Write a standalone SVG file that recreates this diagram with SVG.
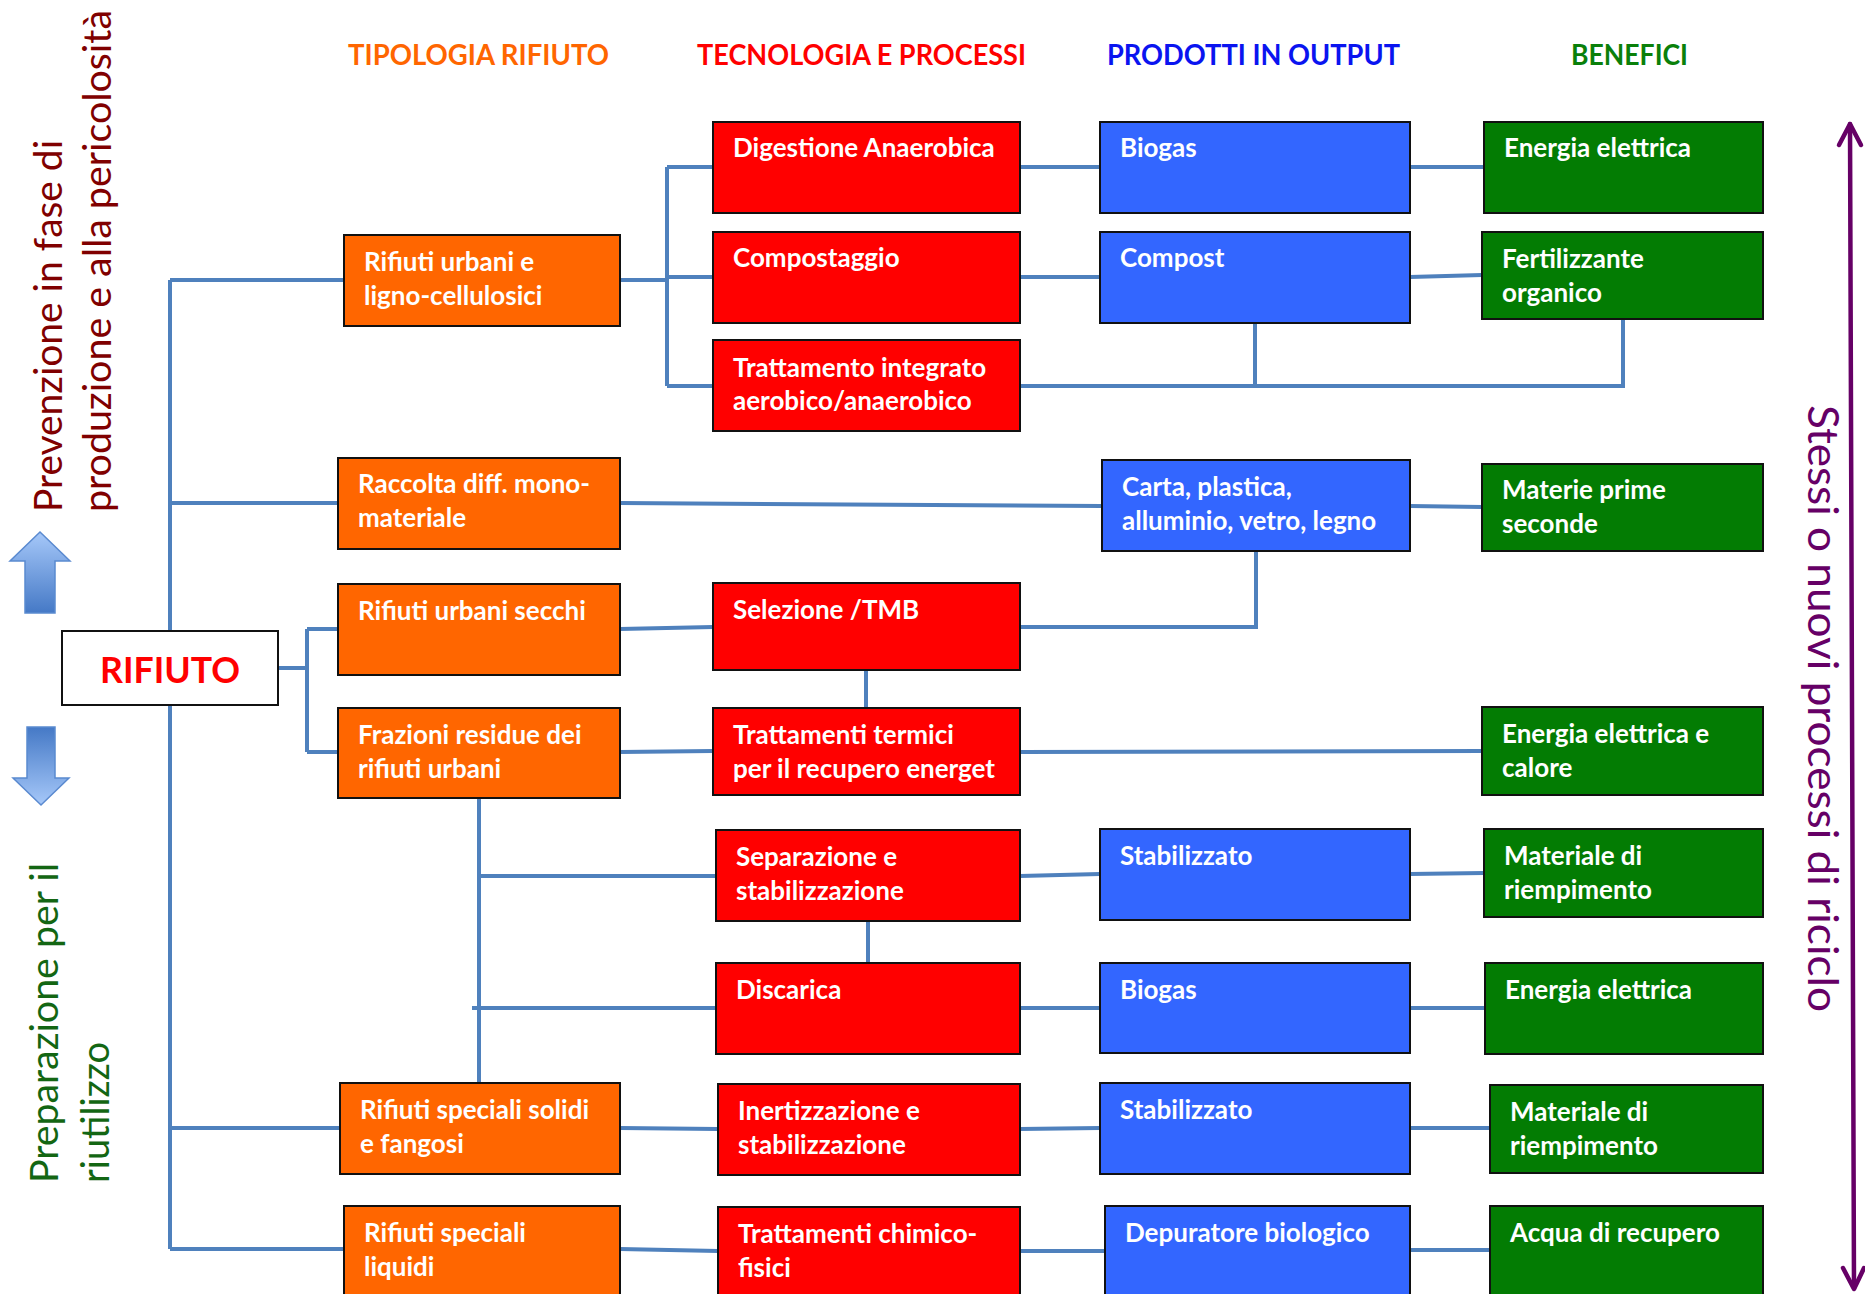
<svg xmlns="http://www.w3.org/2000/svg" width="1865" height="1294" viewBox="0 0 1865 1294">
<style>
.box{stroke:#111;stroke-width:2}
.or{fill:#FF6600}.rd{fill:#FF0000}.bl{fill:#3366FF}.gr{fill:#037C03}
.lbl{font-family:Lato,"Liberation Sans",sans-serif;font-weight:bold;font-size:26px;fill:#fff}
.hdr{font-family:Lato,"Liberation Sans",sans-serif;font-weight:bold;font-size:28px}
.side{font-family:Lato,"Liberation Sans",sans-serif;font-size:38px}
.conn path{fill:none;stroke:#4F81BD;stroke-width:4;stroke-linejoin:miter}
</style>
<defs>
<linearGradient id="gUp" x1="0" y1="0" x2="0" y2="1"><stop offset="0" stop-color="#A6C8F9"/><stop offset="1" stop-color="#4579C6"/></linearGradient>
<linearGradient id="gDn" x1="0" y1="0" x2="0" y2="1"><stop offset="0" stop-color="#4579C6"/><stop offset="1" stop-color="#A6C8F9"/></linearGradient>
</defs>
<rect width="1865" height="1294" fill="#fff"/>

<g id="headers">
<text class="hdr" x="348" y="65" fill="#FF6600" textLength="261" lengthAdjust="spacingAndGlyphs">TIPOLOGIA RIFIUTO</text>
<text class="hdr" x="697" y="65" fill="#FF0000" textLength="329" lengthAdjust="spacingAndGlyphs">TECNOLOGIA E PROCESSI</text>
<text class="hdr" x="1107" y="65" fill="#0A14F0" textLength="293" lengthAdjust="spacingAndGlyphs">PRODOTTI IN OUTPUT</text>
<text class="hdr" x="1571" y="65" fill="#0A800A" textLength="117" lengthAdjust="spacingAndGlyphs">BENEFICI</text>
</g>

<g id="side-labels">
<text class="side" fill="#800000" transform="translate(62,512) rotate(-90)" textLength="372" lengthAdjust="spacingAndGlyphs">Prevenzione in fase di</text>
<text class="side" fill="#800000" transform="translate(111,512) rotate(-90)" textLength="502" lengthAdjust="spacingAndGlyphs">produzione e alla pericolosità</text>
<text class="side" fill="#136613" transform="translate(58,1183) rotate(-90)" textLength="320" lengthAdjust="spacingAndGlyphs">Preparazione per il</text>
<text class="side" fill="#136613" transform="translate(109,1183) rotate(-90)" textLength="141" lengthAdjust="spacingAndGlyphs">riutilizzo</text>
<text class="side" fill="#660066" style="font-size:42px" transform="translate(1808,405) rotate(90)" textLength="607" lengthAdjust="spacingAndGlyphs">Stessi o nuovi processi di riciclo</text>
</g>

<g id="arrows">
<polygon points="40,532 70,561 55,561 55,613 25,613 25,561 10,561" fill="url(#gUp)" stroke="#5A8AD0" stroke-width="1.5"/>
<polygon points="27,727 55,727 55,778 69,778 41,805 13,778 27,778" fill="url(#gDn)" stroke="#5A8AD0" stroke-width="1.5"/>
<g fill="none" stroke="#660066" stroke-width="4.5" stroke-linecap="round" stroke-linejoin="round">
<path d="M1850 124 L1854 1288"/>
<path d="M1839 145 L1850 124 L1861 145"/>
<path d="M1843 1268 L1854 1289 L1864 1268"/>
</g>
</g>

<g class="conn" id="connectors">
<path d="M170 280 V1249"/>
<path d="M170 280 H344"/>
<path d="M170 503 H338"/>
<path d="M170 1128 H340"/>
<path d="M170 1249 H344"/>
<path d="M278 668 H307"/>
<path d="M307 629 V752"/>
<path d="M307 629 H338"/>
<path d="M307 752 H338"/>
<path d="M620 280 H667"/>
<path d="M667 167 V386"/>
<path d="M667 167 H713"/>
<path d="M667 277 H713"/>
<path d="M667 386 H713"/>
<path d="M1020 167 H1100"/>
<path d="M1020 277 H1100"/>
<path d="M1410 167 H1484"/>
<path d="M1410 277 L1482 275"/>
<path d="M1020 386 H1623 V319"/>
<path d="M1255 323 V386"/>
<path d="M620 503 L1102 506"/>
<path d="M1410 506 L1482 507"/>
<path d="M620 629 L713 627"/>
<path d="M1020 627 H1256 V551"/>
<path d="M866 670 V708"/>
<path d="M620 752 L713 751"/>
<path d="M1020 752 L1482 751"/>
<path d="M479 798 V1083"/>
<path d="M479 876 H716"/>
<path d="M472 1008 H716"/>
<path d="M1020 876 L1100 874"/>
<path d="M868 921 V963"/>
<path d="M1410 874 L1484 873"/>
<path d="M1020 1008 H1100"/>
<path d="M1410 1008 H1485"/>
<path d="M620 1128 L718 1129"/>
<path d="M1020 1129 L1100 1128"/>
<path d="M1410 1128 H1490"/>
<path d="M620 1249 L718 1251"/>
<path d="M1020 1251 H1105"/>
<path d="M1410 1250 H1490"/>
</g>

<g id="rifiuto">
<rect class="box" x="62" y="631" width="216" height="74" fill="#fff"/>
<text x="170" y="683" text-anchor="middle" font-family="Lato,'Liberation Sans',sans-serif" font-weight="bold" font-size="36" fill="#FF0000" textLength="140" lengthAdjust="spacingAndGlyphs">RIFIUTO</text>
</g>

<g id="o1"><rect class="box or" x="344" y="235" width="276" height="91"/><text class="lbl" x="364" y="271">Rifiuti urbani e</text><text class="lbl" x="364" y="305">ligno-cellulosici</text></g>
<g id="o2"><rect class="box or" x="338" y="458" width="282" height="91"/><text class="lbl" x="358" y="493">Raccolta diff. mono-</text><text class="lbl" x="358" y="527">materiale</text></g>
<g id="o3"><rect class="box or" x="338" y="584" width="282" height="91"/><text class="lbl" x="358" y="620">Rifiuti urbani secchi</text></g>
<g id="o4"><rect class="box or" x="338" y="708" width="282" height="90"/><text class="lbl" x="358" y="744">Frazioni residue dei</text><text class="lbl" x="358" y="778">rifiuti urbani</text></g>
<g id="o5"><rect class="box or" x="340" y="1083" width="280" height="91"/><text class="lbl" x="360" y="1119">Rifiuti speciali solidi</text><text class="lbl" x="360" y="1153">e fangosi</text></g>
<g id="o6"><rect class="box or" x="344" y="1206" width="276" height="96"/><text class="lbl" x="364" y="1242">Rifiuti speciali</text><text class="lbl" x="364" y="1276">liquidi</text></g>

<g id="r1"><rect class="box rd" x="713" y="122" width="307" height="91"/><text class="lbl" x="733" y="157">Digestione Anaerobica</text></g>
<g id="r2"><rect class="box rd" x="713" y="232" width="307" height="91"/><text class="lbl" x="733" y="267">Compostaggio</text></g>
<g id="r3"><rect class="box rd" x="713" y="340" width="307" height="91"/><text class="lbl" x="733" y="377">Trattamento integrato</text><text class="lbl" x="733" y="410">aerobico/anaerobico</text></g>
<g id="r4"><rect class="box rd" x="713" y="583" width="307" height="87"/><text class="lbl" x="733" y="619">Selezione /TMB</text></g>
<g id="r5"><rect class="box rd" x="713" y="708" width="307" height="87"/><text class="lbl" x="733" y="744">Trattamenti termici</text><text class="lbl" x="733" y="778">per il recupero energet</text></g>
<g id="r6"><rect class="box rd" x="716" y="830" width="304" height="91"/><text class="lbl" x="736" y="866">Separazione e</text><text class="lbl" x="736" y="900">stabilizzazione</text></g>
<g id="r7"><rect class="box rd" x="716" y="963" width="304" height="91"/><text class="lbl" x="736" y="999">Discarica</text></g>
<g id="r8"><rect class="box rd" x="718" y="1084" width="302" height="91"/><text class="lbl" x="738" y="1120">Inertizzazione e</text><text class="lbl" x="738" y="1154">stabilizzazione</text></g>
<g id="r9"><rect class="box rd" x="718" y="1207" width="302" height="95"/><text class="lbl" x="738" y="1243">Trattamenti chimico-</text><text class="lbl" x="738" y="1277">fisici</text></g>

<g id="b1"><rect class="box bl" x="1100" y="122" width="310" height="91"/><text class="lbl" x="1120" y="157">Biogas</text></g>
<g id="b2"><rect class="box bl" x="1100" y="232" width="310" height="91"/><text class="lbl" x="1120" y="267">Compost</text></g>
<g id="b3"><rect class="box bl" x="1102" y="460" width="308" height="91"/><text class="lbl" x="1122" y="496">Carta, plastica,</text><text class="lbl" x="1122" y="530">alluminio, vetro, legno</text></g>
<g id="b4"><rect class="box bl" x="1100" y="829" width="310" height="91"/><text class="lbl" x="1120" y="865">Stabilizzato</text></g>
<g id="b5"><rect class="box bl" x="1100" y="963" width="310" height="90"/><text class="lbl" x="1120" y="999">Biogas</text></g>
<g id="b6"><rect class="box bl" x="1100" y="1083" width="310" height="91"/><text class="lbl" x="1120" y="1119">Stabilizzato</text></g>
<g id="b7"><rect class="box bl" x="1105" y="1206" width="305" height="96"/><text class="lbl" x="1125" y="1242">Depuratore biologico</text></g>

<g id="g1"><rect class="box gr" x="1484" y="122" width="279" height="91"/><text class="lbl" x="1504" y="157">Energia elettrica</text></g>
<g id="g2"><rect class="box gr" x="1482" y="232" width="281" height="87"/><text class="lbl" x="1502" y="268">Fertilizzante</text><text class="lbl" x="1502" y="302">organico</text></g>
<g id="g3"><rect class="box gr" x="1482" y="464" width="281" height="87"/><text class="lbl" x="1502" y="499">Materie prime</text><text class="lbl" x="1502" y="533">seconde</text></g>
<g id="g4"><rect class="box gr" x="1482" y="707" width="281" height="88"/><text class="lbl" x="1502" y="743">Energia elettrica e</text><text class="lbl" x="1502" y="777">calore</text></g>
<g id="g5"><rect class="box gr" x="1484" y="829" width="279" height="88"/><text class="lbl" x="1504" y="865">Materiale di</text><text class="lbl" x="1504" y="899">riempimento</text></g>
<g id="g6"><rect class="box gr" x="1485" y="963" width="278" height="91"/><text class="lbl" x="1505" y="999">Energia elettrica</text></g>
<g id="g7"><rect class="box gr" x="1490" y="1085" width="273" height="88"/><text class="lbl" x="1510" y="1121">Materiale di</text><text class="lbl" x="1510" y="1155">riempimento</text></g>
<g id="g8"><rect class="box gr" x="1490" y="1206" width="273" height="96"/><text class="lbl" x="1510" y="1242">Acqua di recupero</text></g>
</svg>
